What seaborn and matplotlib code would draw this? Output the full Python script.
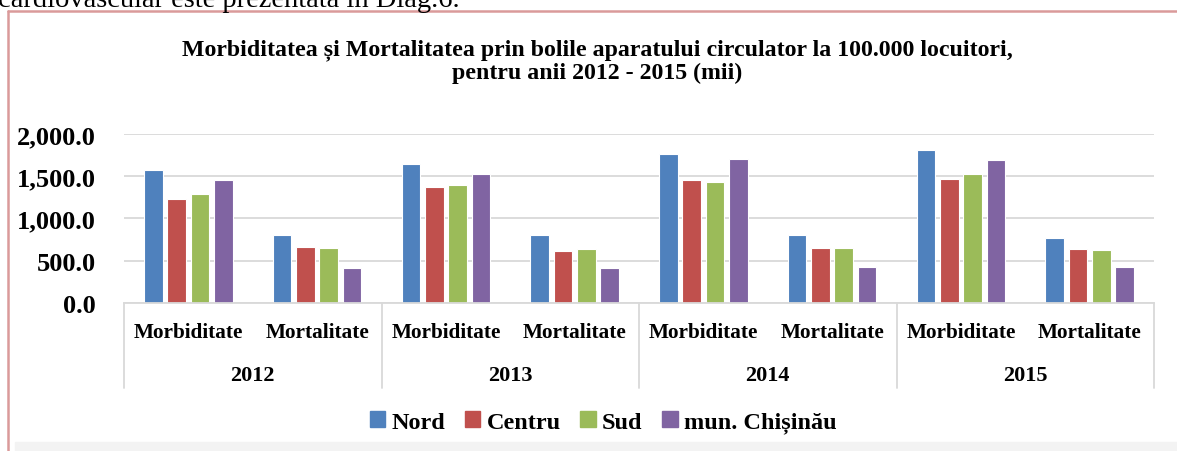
import matplotlib
matplotlib.use("Agg")
import matplotlib.pyplot as plt
import matplotlib.transforms as mtransforms
from matplotlib.lines import Line2D
from matplotlib.patches import Rectangle
import pandas as pd
import seaborn as sns

years = ["2012", "2013", "2014", "2015"]
indicators = ["Morbiditate", "Mortalitate"]
regions = ["Nord", "Centru", "Sud", "mun. Chișinău"]

# values per region, order: 2012 Morb, 2012 Mort, 2013 Morb, 2013 Mort, ...
nord = [1571, 806, 1639, 798, 1762, 802, 1814, 770]
centru = [1235, 655, 1373, 615, 1449, 651, 1464, 631]
sud = [1286, 643, 1393, 631, 1429, 651, 1528, 624]
chisinau = [1452, 417, 1524, 409, 1699, 425, 1687, 425]

colors = ["#4F81BD", "#C0504D", "#9BBB59", "#8064A2"]

cats = [f"{y} {ind}" for y in years for ind in indicators]
rows = []
for reg, vals in zip(regions, [nord, centru, sud, chisinau]):
    for c, v in zip(cats, vals):
        rows.append({"cat": c, "region": reg, "value": v})
df = pd.DataFrame(rows)

sns.set_theme(style="white")
plt.rcParams["font.family"] = ["Liberation Serif", "DejaVu Serif"]
plt.rcParams["text.color"] = "black"
plt.rcParams["ytick.color"] = "black"

W, H = 1177, 452
fig = plt.figure(figsize=(W / 100, H / 100), dpi=100)
ax = fig.add_axes([124 / W, 1 - 303.7 / H, (1154 - 124) / W, (303.7 - 135) / H])

sns.barplot(data=df, x="cat", y="value", hue="region", order=cats, hue_order=regions,
            palette=colors, width=0.724, gap=0.2, edgecolor="white", linewidth=0.8,
            saturation=1, ax=ax)

ax.set_ylim(0, 2000)
ax.set_xlim(-0.5, len(cats) - 0.5)
ax.set_yticks([0, 500, 1000, 1500, 2000])
ax.set_yticklabels([f"{v:,.1f}" for v in [0, 500, 1000, 1500, 2000]],
                   fontsize=19, fontweight="bold", color="black")
ax.tick_params(axis="y", length=0, pad=20)
ax.set_xticks([])
ax.set_xlabel("")
ax.set_ylabel("")
ax.yaxis.grid(True, color="#d9d9d9", linewidth=1.3)
ax.set_axisbelow(True)
for side in ["left", "right", "top"]:
    ax.spines[side].set_visible(False)
ax.spines["bottom"].set_color("#d9d9d9")
ax.spines["bottom"].set_linewidth(1.3)
ax.legend_.remove()

# multi-level category axis
trans = mtransforms.blended_transform_factory(ax.transData, fig.transFigure)
for i, c in enumerate(cats):
    ax.text(i, 1 - 333 / H, c.split(" ")[1], transform=trans, ha="center", va="center",
            fontsize=15.3, fontweight="bold", color="black")
for j, y in enumerate(years):
    ax.text(2 * j + 0.5, 1 - 376 / H, y, transform=trans, ha="center", va="center",
            fontsize=16, fontweight="bold", color="black")
for b in [-0.5, 1.5, 3.5, 5.5, 7.5]:
    ax.plot([b, b], [1 - 303.7 / H, 1 - 389 / H], transform=trans, color="#d9d9d9",
            linewidth=1.3, clip_on=False)

fig.text(597.5 / W, 1 - 61.5 / H,
         "Morbiditatea și Mortalitatea prin bolile aparatului circulator la 100.000 locuitori,\n"
         "pentru anii 2012 - 2015 (mii)",
         ha="center", va="center", fontsize=17.2, fontweight="bold", linespacing=1.08,
         color="black")

handles = [Rectangle((0, 0), 1, 1, color=c) for c in colors]
fig.legend(handles, regions, loc="center", bbox_to_anchor=(603 / W, 1 - 423 / H),
           ncol=4, frameon=False, handlelength=0.65, handleheight=0.65, handletextpad=0.25,
           columnspacing=0.8, prop={"size": 17.5, "weight": "bold"})

# surrounding document bits
fig.text(-0.002, 1 - 7 / H, "cardiovascular este prezentată în Diag.6.", ha="left",
         va="baseline", fontsize=20.5, color="black")
fig.add_artist(Line2D([8 / W, 1], [1 - 12 / H, 1 - 12 / H], color="#DA9A9A", linewidth=1.8))
fig.add_artist(Line2D([8 / W, 8 / W], [0, 1 - 12 / H], color="#DA9A9A", linewidth=1.8))
fig.add_artist(Rectangle((15 / W, 0), 1, 9 / H, color="#f3f3f3", transform=fig.transFigure))

fig.savefig("out.png", dpi=100)
